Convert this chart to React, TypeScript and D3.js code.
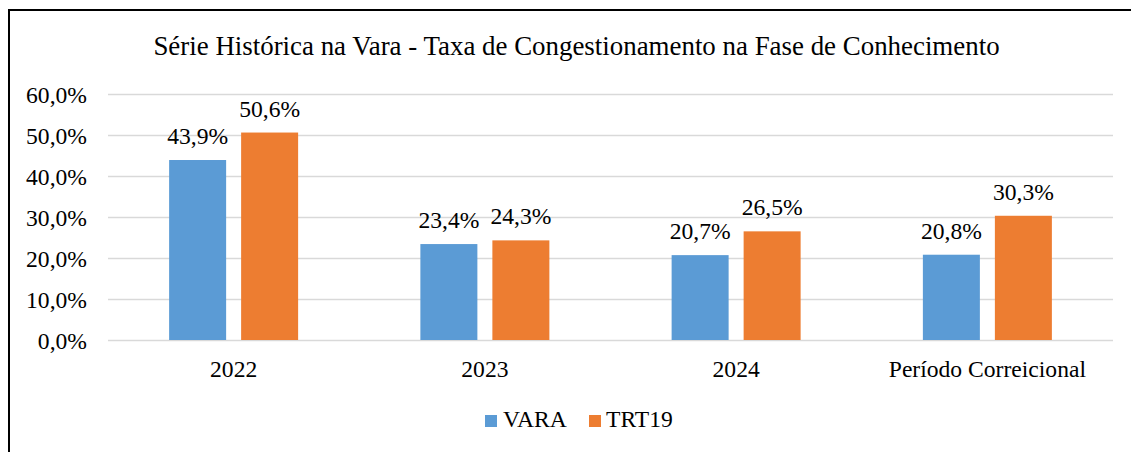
import React from "react";
import * as d3 from "d3";

const categories = ["2022", "2023", "2024", "Período Correicional"];
const seriesNames = ["VARA", "TRT19"];
const varaValues = [43.9, 23.4, 20.7, 20.8];
const trtValues = [50.6, 24.3, 26.5, 30.3];
const yTicks = [0, 10, 20, 30, 40, 50, 60];
const colors = ["#5B9BD5", "#ED7D31"];
const title = "Série Histórica na Vara - Taxa de Congestionamento na Fase de Conhecimento";

const W = 1131;
const H = 452;
const FONT = "Liberation Serif";
const FS = 23.6;

const fmt = (v: number) => v.toFixed(1).replace(".", ",") + "%";

export default function App() {
  const x = d3.scaleBand<string>().domain(categories).range([108, 1113]);
  const y = d3.scaleLinear().domain([0, 60]).range([340, 94]);
  const barW = 57;
  const gap = 15;
  const series = [varaValues, trtValues];
  const cxOf = (c: string) => (x(c) as number) + x.bandwidth() / 2;
  const bars = categories.flatMap((c, i) =>
    series.map((vals, s) => {
      const cx = cxOf(c);
      const bx = s === 0 ? cx - gap / 2 - barW : cx + gap / 2;
      return { key: `${c}-${s}`, bx, v: vals[i], s };
    })
  );

  return (
    <>
      <style>{`body{margin:0}`}</style>
      <svg width={W} height={H} style={{ display: "block" }}>
        <rect x={0} y={0} width={W} height={H} fill="#fff" />
        <path d={`M9,${H} V10 H${W}`} fill="none" stroke="#000" strokeWidth={2} />
        <text x={576.5} y={55} textAnchor="middle" fontFamily={FONT} fontSize={26.9} fill="#000">
          {title}
        </text>
        {yTicks.map((t) => (
          <line key={`l${t}`} x1={108} x2={1113} y1={Math.round(y(t)) + 0.5} y2={Math.round(y(t)) + 0.5} stroke="#d9d9d9" strokeWidth={1.5} />
        ))}
        {yTicks.map((t) => (
          <text key={`t${t}`} x={87} y={y(t) + 8.5} textAnchor="end" fontFamily={FONT} fontSize={FS} fill="#000">
            {fmt(t)}
          </text>
        ))}
        {bars.map((b) => (
          <rect key={`r${b.key}`} x={b.bx} y={y(b.v)} width={barW} height={y(0) - y(b.v)} fill={colors[b.s]} />
        ))}
        {bars.map((b) => (
          <text key={`v${b.key}`} x={b.bx + barW / 2} y={y(b.v) - 16} textAnchor="middle" fontFamily={FONT} fontSize={FS} fill="#000">
            {fmt(b.v)}
          </text>
        ))}
        {categories.map((c) => (
          <text key={`c${c}`} x={cxOf(c)} y={377} textAnchor="middle" fontFamily={FONT} fontSize={FS} fill="#000">
            {c}
          </text>
        ))}
        {seriesNames.map((n, s) => (
          <rect key={`lr${n}`} x={s === 0 ? 485 : 589} y={415} width={12} height={12} fill={colors[s]} />
        ))}
        {seriesNames.map((n, s) => (
          <text key={`lt${n}`} x={s === 0 ? 503 : 606} y={427} fontFamily={FONT} fontSize={FS} fill="#000">
            {n}
          </text>
        ))}
      </svg>
    </>
  );
}
